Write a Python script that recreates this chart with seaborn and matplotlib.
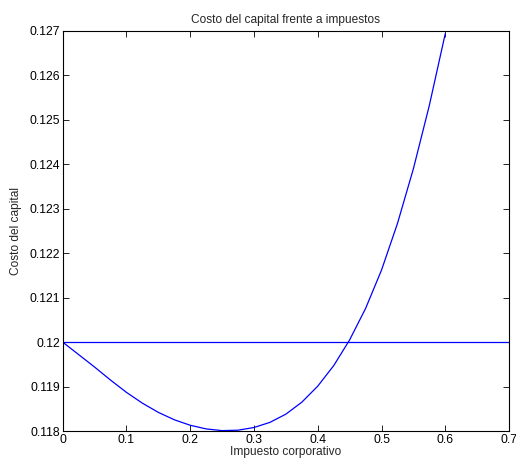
import numpy as np
import pandas as pd
import matplotlib
matplotlib.use("Agg")
import matplotlib.pyplot as plt
import matplotlib.ticker as mticker
import seaborn as sns

# -----------------------------
# DATA
# -----------------------------
tax_rate = [0.0, 0.025, 0.05, 0.075, 0.1, 0.125, 0.15, 0.175, 0.2, 0.225,
            0.25, 0.275, 0.3, 0.325, 0.35, 0.375, 0.4, 0.425, 0.45, 0.475,
            0.5, 0.525, 0.55, 0.575, 0.6]
cost_capital = [0.12, 0.11972, 0.11944, 0.119147, 0.11887, 0.118627, 0.11842,
                0.118254, 0.11813, 0.118048, 0.11801, 0.118019, 0.11808,
                0.118195, 0.11838, 0.118649, 0.11901, 0.119471, 0.12005,
                0.120757, 0.12162, 0.122668, 0.1239, 0.125325, 0.12694]
ref_x = [0.0, 0.7]
ref_y = [0.12, 0.12]

x_ticks = [0, 0.1, 0.2, 0.3, 0.4, 0.5, 0.6, 0.7]
y_ticks = [0.118, 0.119, 0.12, 0.121, 0.122, 0.123, 0.124, 0.125, 0.126, 0.127]

df_curve = pd.DataFrame({"impuesto": tax_rate, "costo": cost_capital})
df_ref = pd.DataFrame({"impuesto": ref_x, "costo": ref_y})

# -----------------------------
# STYLE
# -----------------------------
sns.set_style("ticks")
plt.rcParams["font.family"] = ["Liberation Sans", "DejaVu Sans"]
plt.rcParams["xtick.direction"] = "in"
plt.rcParams["ytick.direction"] = "in"

fig = plt.figure(figsize=(5.16, 4.62), dpi=100)
ax = fig.add_axes([0.1215, 0.067, 0.865, 0.866])

sns.lineplot(data=df_ref, x="impuesto", y="costo", color="#0000ff", lw=0.9, ax=ax)
sns.lineplot(data=df_curve, x="impuesto", y="costo", color="#0000ff", lw=0.9, ax=ax)

ax.set_xlim(0, 0.7)
ax.set_ylim(0.118, 0.127)
ax.set_xticks(x_ticks)
ax.set_yticks(y_ticks)
ax.xaxis.set_major_formatter(mticker.FormatStrFormatter("%g"))
ax.yaxis.set_major_formatter(mticker.FormatStrFormatter("%g"))
ax.tick_params(axis="both", which="major", labelsize=8.8, length=4, width=0.6,
               top=True, right=True, pad=2, colors="black")

for side in ["top", "right", "bottom", "left"]:
    ax.spines[side].set_visible(True)
    ax.spines[side].set_linewidth(0.8)
    ax.spines[side].set_color("black")

ax.set_title("Costo del capital frente a impuestos", fontsize=8.6, pad=6)
ax.set_xlabel("Impuesto corporativo", fontsize=8.6, labelpad=0)
ax.set_ylabel("Costo del capital", fontsize=8.6, labelpad=5)

fig.savefig("out.png", dpi=100)
